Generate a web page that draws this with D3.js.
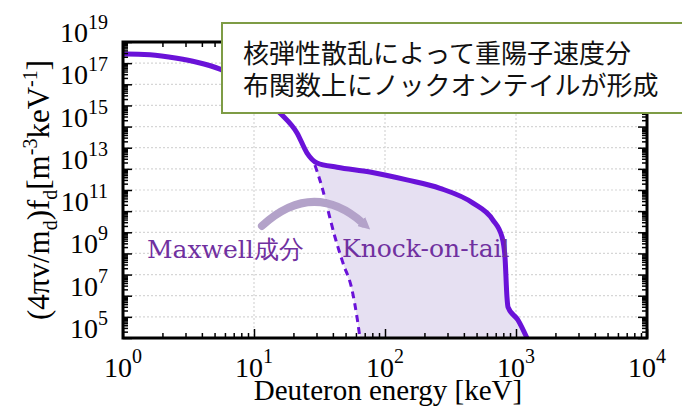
<!DOCTYPE html>
<html><head><meta charset="utf-8">
<script src="https://cdn.jsdelivr.net/npm/d3@7"></script>
<style>body{margin:0;background:#fff}svg{display:block}</style>
</head><body>
<svg id="chart" width="682" height="407"></svg>
<script>
// Full deuteron distribution (Maxwellian bulk + knock-on tail)
const energyAll = [1, 1.07, 1.61, 2.58, 3.67, 5.5, 8.53, 12.1, 15.8, 21.3, 25.4, 30.3, 43.1, 76.7, 147, 263, 470, 667, 782, 824, 853, 869, 1035, 1213];
const fAll = [2.7e18, 2.7e18, 2.5e18, 1.7e18, 1.1e18, 5.2e17, 1.3e17, 2.2e16, 4.4e15, 5.0e14, 5.6e13, 1.9e13, 1.2e13, 7.1e12, 3.0e12, 1.2e12, 2.4e11, 3.8e10, 6.0e9, 6.8e8, 8.7e6, 2.9e6, 7.1e5, 1e5];
// Maxwellian component continued below the knee
const energyMaxwell = [29.2, 33.0, 36.7, 41.5, 47.8, 56.0, 61.1, 64.4];
const fMaxwell = [1.5e13, 1.4e12, 1.1e11, 6.0e9, 3.5e8, 1.9e7, 9.8e5, 1e5];
// Axis ticks (decades) and labelled exponents
const xDecades = [1, 10, 100, 1000, 10000];
const xLabelExp = [0, 1, 2, 3, 4];
const yLabelExp = [5, 7, 9, 11, 13, 15, 17, 19];
// Annotation arrow: start, control, end in data units
const arrowE = [11.5, 28.2, 67.9];
const arrowF = [2.0e10, 3.2e12, 2.7e10];
const noteLines = ["核弾性散乱によって重陽子速度分", "布関数上にノックオンテイルが形成"];

const svg = d3.select("#chart");
const L = 123, R = 647, T = 42, B = 338;
const x = d3.scaleLog().domain([1, 1e4]).range([L, R]);
const y = d3.scaleLog().domain([1e5, 1e19]).range([B, T]);

const yDecades = d3.range(5, 20).map(e => Math.pow(10, e));
const minorsOf = (lo, hi) => {
  const out = [];
  for (let e = lo; e < hi; e++) for (let k = 2; k <= 9; k++) out.push(k * Math.pow(10, e));
  return out;
};
const xMinor = minorsOf(0, 4), yMinor = minorsOf(5, 19);

svg.append("defs").append("clipPath").attr("id", "plot")
  .append("rect").attr("x", L).attr("y", T).attr("width", R - L).attr("height", B - T);

// grid
const grid = svg.append("g").attr("stroke", "#d6d6d6").attr("stroke-width", 1.2).attr("stroke-dasharray", "2,2");
grid.selectAll("line.gy").data(yDecades.slice(1, -1)).join("line")
  .attr("x1", L).attr("x2", R).attr("y1", d => y(d)).attr("y2", d => y(d));
grid.selectAll("line.gx").data(xDecades.slice(1, -1)).join("line")
  .attr("y1", T).attr("y2", B).attr("x1", d => x(d)).attr("x2", d => x(d));

const allPts = energyAll.map((e, i) => [e, fAll[i]]);
const maxPts = energyMaxwell.map((e, i) => [e, fMaxwell[i]]);

// knock-on tail region between full curve and Maxwellian
const tailPts = [maxPts[0]].concat(allPts.filter(p => p[0] > maxPts[0][0])).concat(maxPts.slice().reverse());
const plot = svg.append("g").attr("clip-path", "url(#plot)");
plot.append("path").datum(tailPts)
  .attr("d", d3.line().x(d => x(d[0])).y(d => y(d[1])))
  .attr("fill", "#e6e0f2").attr("stroke", "none");

const line = d3.line().x(d => x(d[0])).y(d => y(d[1])).curve(d3.curveMonotoneX);
plot.append("path").datum(maxPts).attr("d", line)
  .attr("fill", "none").attr("stroke", "#6a12d8").attr("stroke-width", 3).attr("stroke-dasharray", "7,5");
plot.append("path").datum(allPts).attr("d", line)
  .attr("fill", "none").attr("stroke", "#6a12d8").attr("stroke-width", 5).attr("stroke-linejoin", "round");

// axes with inward ticks on all four sides
function ticks(axisFn, scale, vals, len, tr) {
  const g = svg.append("g").attr("transform", tr)
    .call(axisFn(scale).tickValues(vals).tickSize(-len).tickFormat(""));
  g.select(".domain").remove();
  g.selectAll("line").attr("stroke", "#000").attr("stroke-width", 1.5);
}
ticks(d3.axisBottom, x, xDecades, 9, `translate(0,${B})`);
ticks(d3.axisBottom, x, xMinor, 5, `translate(0,${B})`);
ticks(d3.axisTop, x, xDecades, 9, `translate(0,${T})`);
ticks(d3.axisTop, x, xMinor, 5, `translate(0,${T})`);
ticks(d3.axisLeft, y, yDecades, 9, `translate(${L},0)`);
ticks(d3.axisLeft, y, yMinor, 5, `translate(${L},0)`);
ticks(d3.axisRight, y, yDecades, 9, `translate(${R},0)`);
ticks(d3.axisRight, y, yMinor, 5, `translate(${R},0)`);

svg.append("rect").attr("x", L).attr("y", T).attr("width", R - L).attr("height", B - T)
  .attr("fill", "none").attr("stroke", "#000").attr("stroke-width", 3);

const serif = "'Liberation Serif','Times New Roman',serif";
// tick labels
const xl = svg.append("g").attr("font-family", serif).attr("fill", "#000");
xLabelExp.forEach(e => {
  const t = xl.append("text").attr("x", x(Math.pow(10, e))).attr("y", 377)
    .attr("text-anchor", "middle").attr("font-size", 28);
  t.append("tspan").text("10");
  t.append("tspan").attr("dy", -14).attr("font-size", 20).text(e);
});
yLabelExp.forEach(e => {
  const t = xl.append("text").attr("x", 108).attr("y", y(Math.pow(10, e)))
    .attr("text-anchor", "end").attr("font-size", 28);
  t.append("tspan").text("10");
  t.append("tspan").attr("dy", -13).attr("font-size", 20).text(e);
});

// axis titles
svg.append("text").attr("x", (L + R) / 2 + 3).attr("y", 400).attr("text-anchor", "middle")
  .attr("font-family", serif).attr("font-size", 29).text("Deuteron energy [keV]");
const yt = svg.append("text").attr("transform", `translate(49,${(T + B) / 2}) rotate(-90)`)
  .attr("text-anchor", "middle").attr("font-family", serif).attr("font-size", 31);
yt.append("tspan").text("(4πv/m");
yt.append("tspan").attr("dy", 8).attr("font-size", 20).text("d");
yt.append("tspan").attr("dy", -8).text(")f");
yt.append("tspan").attr("dy", 8).attr("font-size", 20).text("d");
yt.append("tspan").attr("dy", -8).text("[m");
yt.append("tspan").attr("dy", -12).attr("font-size", 20).text("-3");
yt.append("tspan").attr("dy", 12).text("keV");
yt.append("tspan").attr("dy", -12).attr("font-size", 20).text("-1");
yt.append("tspan").attr("dy", 12).text("]");

// annotation arrow from Maxwellian to tail
svg.select("defs").append("marker").attr("id", "head")
  .attr("viewBox", "0 0 10 10").attr("refX", 2).attr("refY", 5)
  .attr("markerWidth", 1.5).attr("markerHeight", 1.5).attr("orient", "auto")
  .append("path").attr("d", "M0,0L10,5L0,10Z").attr("fill", "#b3a2c9");
const ap = arrowE.map((e, i) => [x(e), y(arrowF[i])]);
svg.append("path")
  .attr("d", `M${ap[0][0]},${ap[0][1]}Q${ap[1][0]},${ap[1][1]} ${ap[2][0]},${ap[2][1]}`)
  .attr("fill", "none").attr("stroke", "#b3a2c9").attr("stroke-width", 8)
  .attr("stroke-linecap", "round").attr("marker-end", "url(#head)");

const lab = svg.append("g").attr("font-family", "'DejaVu Serif',serif").attr("font-size", 25).attr("fill", "#7030a0");
lab.append("text").attr("x", 147).attr("y", 258).text("Maxwell成分");
lab.append("text").attr("x", 342).attr("y", 257).text("Knock-on-tail");

// note box
svg.append("rect").attr("x", 222).attr("y", 23).attr("width", 470).attr("height", 90)
  .attr("fill", "#fff").attr("stroke", "#7e9c45").attr("stroke-width", 2);
svg.append("g").attr("font-family", "'Noto Sans CJK JP',sans-serif").attr("font-size", 26).attr("fill", "#111")
  .selectAll("text").data(noteLines).join("text")
  .attr("x", 243).attr("y", (d, i) => 63 + i * 32).text(d => d);
</script>
</body></html>
